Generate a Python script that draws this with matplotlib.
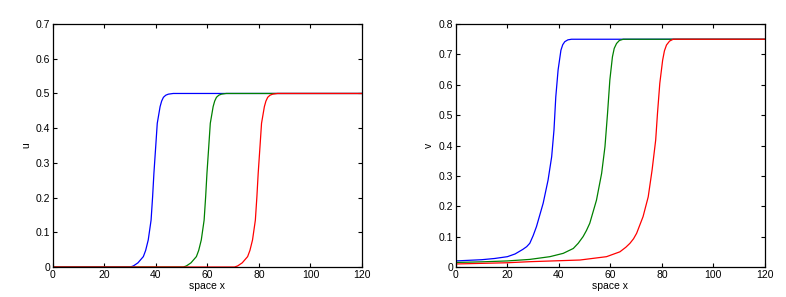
import matplotlib
matplotlib.use('Agg')
import matplotlib.pyplot as plt

plt.rcParams['font.family'] = ['Liberation Sans', 'DejaVu Sans']

# 左图: u 的行波前沿 (三个时刻)
u_blue_x = [0, 30, 31.2, 33, 35.1, 36, 37, 38.1, 38.7, 39.2, 39.9, 40.5, 41.6, 42.2, 42.9, 43.8, 44.8, 46.7, 120]
u_blue_y = [0, 0, 0.003, 0.012, 0.03, 0.048, 0.078, 0.135, 0.203, 0.27, 0.347, 0.414, 0.462, 0.478, 0.489, 0.495, 0.498, 0.5, 0.5]

u_green_x = [0, 50.6, 51.8, 53.6, 55.7, 56.6, 57.6, 58.7, 59.3, 59.8, 60.5, 61.1, 62.2, 62.8, 63.5, 64.4, 65.4, 67.3, 120]
u_green_y = [0, 0, 0.003, 0.012, 0.03, 0.048, 0.078, 0.135, 0.203, 0.27, 0.347, 0.414, 0.462, 0.478, 0.489, 0.495, 0.498, 0.5, 0.5]

u_red_x = [0, 70.5, 71.7, 73.5, 75.6, 76.5, 77.5, 78.6, 79.2, 79.7, 80.4, 81.0, 82.1, 82.7, 83.4, 84.3, 85.3, 87.2, 120]
u_red_y = [0, 0, 0.003, 0.012, 0.03, 0.048, 0.078, 0.135, 0.203, 0.27, 0.347, 0.414, 0.462, 0.478, 0.489, 0.495, 0.498, 0.5, 0.5]

# 右图: v 的行波前沿
v_blue_x = [0, 10, 15, 20, 23, 26, 27.5, 28.7, 30, 31.3, 33.9, 35.8, 37.2, 38.1, 38.8, 39.7, 40.8, 41.5, 42.3, 43.5, 44.9, 120]
v_blue_y = [0.02, 0.024, 0.028, 0.034, 0.043, 0.058, 0.067, 0.078, 0.103, 0.133, 0.21, 0.286, 0.363, 0.451, 0.56, 0.649, 0.714, 0.732, 0.742, 0.748, 0.75, 0.75]

v_green_x = [0, 10, 20, 28.7, 36.5, 41.7, 45.6, 47.5, 49.4, 50.7, 52.0, 54.6, 56.6, 57.9, 58.9, 59.8, 60.8, 61.5, 62.4, 63.5, 65.0, 120]
v_green_y = [0.015, 0.017, 0.02, 0.025, 0.034, 0.045, 0.061, 0.078, 0.1, 0.12, 0.144, 0.22, 0.308, 0.396, 0.506, 0.616, 0.692, 0.72, 0.736, 0.746, 0.75, 0.75]

v_red_x = [0, 10, 20, 28.7, 48.2, 58.5, 63.7, 66, 67.6, 69, 70.2, 72.7, 74.7, 76.2, 77.6, 78.3, 79.2, 80.3, 81, 81.8, 83, 84.4, 120]
v_red_y = [0.01, 0.012, 0.014, 0.0175, 0.023, 0.034, 0.05, 0.065, 0.078, 0.093, 0.111, 0.166, 0.231, 0.319, 0.418, 0.506, 0.605, 0.681, 0.712, 0.731, 0.744, 0.75, 0.75]

BLUE = '#0000ff'
GREEN = '#008000'
RED = '#ff0000'


def style(ax, ymax, ystep, ylabel):
    ax.set_xlim(0, 120)
    ax.set_ylim(0, ymax)
    ax.set_xticks(range(0, 121, 20))
    n = int(round(ymax / ystep))
    ticks = [round(i * ystep, 1) for i in range(n + 1)]
    ax.set_yticks(ticks)
    ax.set_yticklabels(['0' if t == 0 else f'{t:g}' for t in ticks])
    ax.tick_params(direction='in', top=True, right=True, length=3, width=0.8,
                   labelsize=7.5, pad=2)
    for s in ax.spines.values():
        s.set_linewidth(0.9)
    ax.set_xlabel('space x', fontsize=7.5, labelpad=1)
    ax.set_ylabel(ylabel, fontsize=7.5, labelpad=3)


fig = plt.figure(figsize=(7.86, 2.97), dpi=100)
ax1 = fig.add_axes([0.0674, 0.101, 0.3931, 0.818])
ax2 = fig.add_axes([0.580, 0.101, 0.3931, 0.818])

ax1.plot(u_blue_x, u_blue_y, color=BLUE, lw=0.9)
ax1.plot(u_green_x, u_green_y, color=GREEN, lw=0.9)
ax1.plot(u_red_x, u_red_y, color=RED, lw=0.9)
style(ax1, 0.7, 0.1, 'u')

ax2.plot(v_blue_x, v_blue_y, color=BLUE, lw=0.9)
ax2.plot(v_green_x, v_green_y, color=GREEN, lw=0.9)
ax2.plot(v_red_x, v_red_y, color=RED, lw=0.9)
style(ax2, 0.8, 0.1, 'v')

plt.savefig('out.png', dpi=100)
plt.close()
